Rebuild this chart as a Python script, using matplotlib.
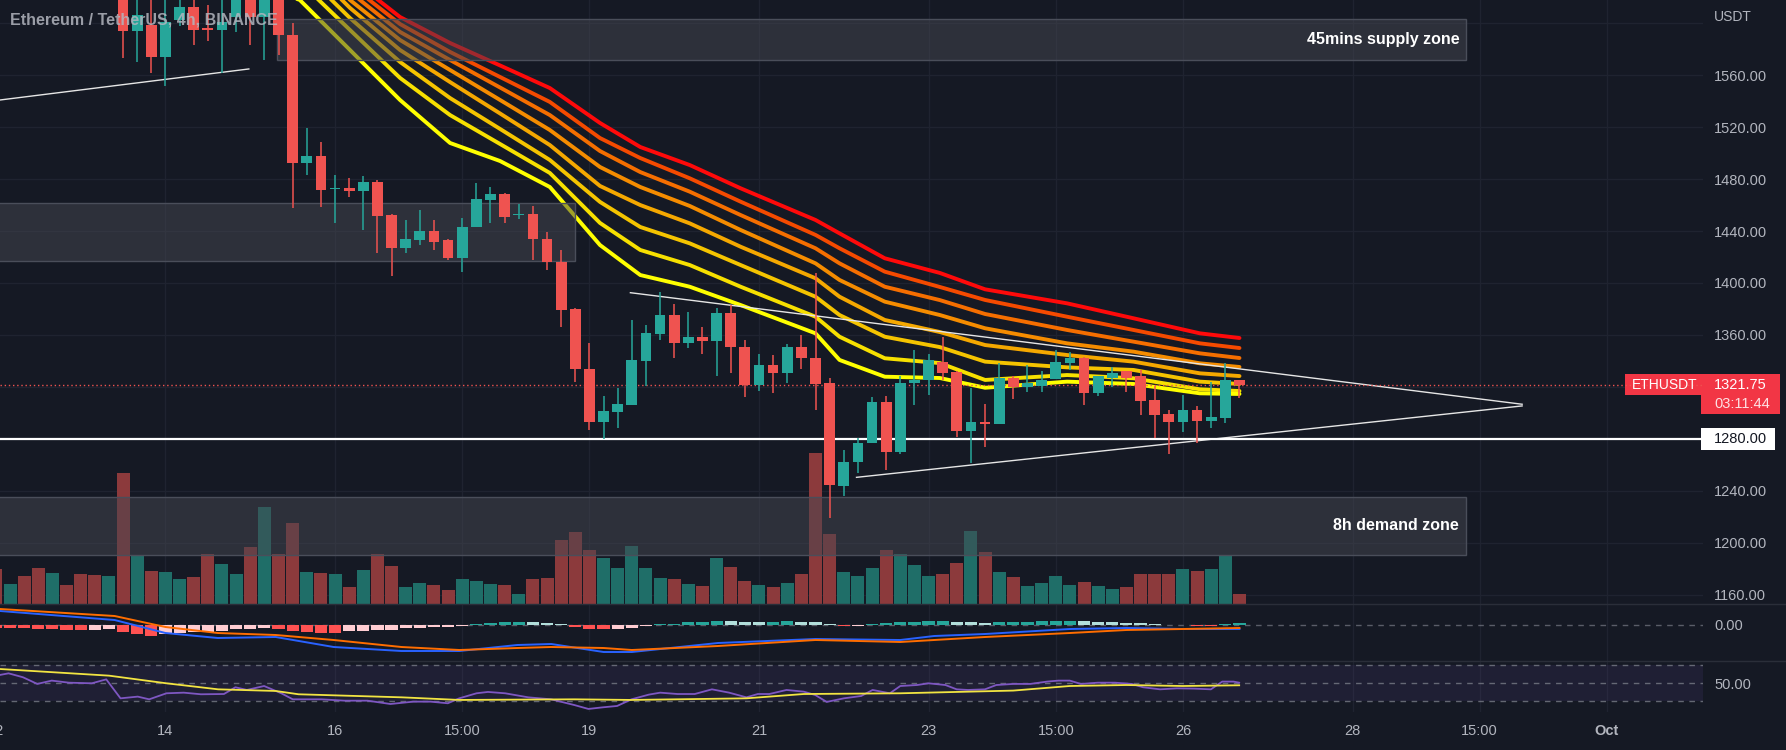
import numpy as np
import matplotlib
matplotlib.use('Agg')
import matplotlib.pyplot as plt
from matplotlib.patches import Rectangle
from matplotlib.transforms import blended_transform_factory, IdentityTransform

plt.rcParams['font.family'] = ['Liberation Sans', 'DejaVu Sans']

# ---------------- data ----------------
BARS = np.arange(-1, 88)  # 4h bars, bar 11 = Sep 14 first bar

OPEN = [1668, 1655, 1666, 1650, 1636, 1647, 1640, 1630, 1627,
        1636, 1594, 1599, 1574, 1602.5, 1612.7, 1596, 1595, 1605, 1632, 1605, 1628,
        1591, 1492, 1498, 1472, 1473, 1471, 1478, 1452.5, 1426.7, 1433, 1440, 1433,
        1419, 1443.4, 1464, 1468.5, 1452, 1453, 1434, 1416, 1380, 1334, 1293, 1301,
        1306, 1340, 1361, 1375.5, 1354, 1358, 1355, 1377, 1351, 1321.5, 1337, 1331,
        1351, 1342, 1323, 1244, 1262, 1277, 1308, 1270, 1323, 1325, 1339, 1331.5,
        1286, 1293, 1291, 1327, 1320, 1321, 1326, 1338, 1342, 1315, 1327, 1332,
        1328, 1310, 1299, 1293, 1302, 1294, 1296, 1325]
HIGH = [1675, 1672, 1670, 1656, 1652, 1650, 1645, 1638, 1642,
        1642, 1625, 1621, 1622, 1619, 1621, 1614, 1625, 1640, 1645, 1640, 1636,
        1600, 1519, 1508.6, 1483, 1481, 1482, 1479, 1453, 1448.5, 1456, 1448.5, 1434,
        1450, 1477, 1474, 1469, 1461, 1459, 1439, 1425, 1381, 1354, 1313, 1319,
        1371.5, 1368, 1393, 1384, 1378, 1366, 1381, 1383, 1356, 1345, 1344.6, 1353,
        1360, 1408, 1327, 1271, 1280.5, 1312, 1313, 1328, 1348, 1345, 1358.5, 1332,
        1319, 1307, 1338, 1328, 1337, 1332, 1348, 1347, 1343, 1328, 1335, 1332,
        1333, 1321, 1302, 1314, 1305, 1324, 1338, 1325]
LOW = [1648, 1650, 1645, 1630, 1628, 1636, 1626, 1622, 1624,
       1573, 1570, 1562, 1552, 1598, 1583, 1586, 1562, 1593, 1583, 1572, 1575.5,
       1457.7, 1483, 1458.5, 1446, 1466.5, 1441, 1423, 1405, 1423, 1429, 1425, 1418,
       1408.6, 1443, 1446, 1446, 1449, 1418, 1410, 1366, 1324, 1287, 1280, 1288.5,
       1306, 1321, 1356, 1342, 1350, 1345, 1328, 1331, 1312, 1317, 1315, 1323,
       1334, 1302, 1219, 1236, 1254, 1277, 1256, 1268, 1306, 1314, 1325, 1281,
       1261, 1274, 1291, 1311, 1316, 1316, 1326, 1333, 1306, 1313, 1320, 1316,
       1298, 1280.5, 1268, 1285, 1277, 1288, 1292, 1311.5]
CLOSE = [1655, 1666, 1650, 1636, 1647, 1640, 1630, 1627, 1636,
         1594, 1606, 1574, 1601, 1612.5, 1594.8, 1595, 1601, 1630, 1605, 1628, 1591,
         1492.4, 1497.8, 1471.6, 1473, 1471, 1478, 1451.6, 1426.7, 1433.7, 1440, 1431.5, 1419,
         1443.4, 1464.8, 1468.5, 1451, 1453, 1434, 1416, 1379, 1334, 1293, 1301.4, 1307,
         1341, 1361.5, 1375.5, 1354, 1358, 1355, 1377, 1351, 1321.5, 1337, 1331, 1351,
         1342, 1322, 1244.4, 1262, 1277, 1308, 1270, 1323, 1325, 1341, 1331, 1286,
         1293, 1291, 1327, 1320, 1323, 1325, 1339, 1342, 1315, 1328, 1331, 1327,
         1309, 1298, 1293, 1302, 1294, 1297, 1325, 1321.75]
VOLUME = [35, 20, 28, 36, 31, 19, 30, 29, 28,
          131, 48, 33, 32, 25, 27, 50, 40, 30, 57, 97, 50,
          81, 32, 31, 30, 17, 34, 50, 38, 17, 21, 19, 14,
          25, 23, 20, 19, 10, 25, 26, 64, 72, 54, 46, 36,
          58, 36, 26, 25, 20, 18, 46, 37, 23, 19, 17, 21,
          30, 151, 70, 32, 28, 36, 54, 50, 39, 28, 30, 41,
          73, 52, 32, 27, 18, 21, 28, 19, 22, 18, 15, 17,
          30, 30, 30, 35, 33, 35, 48, 10]

# EMA ribbon (8 lines, fast -> slow), sampled at bar positions
RIBBON_X = [-1, 10, 20.5, 24.06, 27.6, 31.14, 34.68, 38.2, 41.75, 44.6, 48.1, 51.7,
            57, 58.7, 61.9, 65.8, 69, 74.8, 79.5, 84.2, 87]
EMA_1 = [1700, 1655, 1618, 1579.4, 1540.9, 1507.8, 1493.9, 1473.9, 1429.2, 1406.1, 1397.1, 1383.0,
         1361.2, 1340.7, 1327.8, 1326.8, 1319.3, 1324.0, 1322.2, 1315.0, 1314.5]
EMA_2 = [1705, 1665, 1632, 1594.8, 1557.9, 1529.3, 1507.0, 1484.7, 1446.2, 1425.4, 1413.8, 1397.1,
         1374.0, 1358.6, 1342.0, 1338.3, 1325.3, 1329.1, 1326.6, 1318.1, 1316.8]
EMA_3 = [1710, 1672, 1642, 1604.0, 1570.2, 1542.4, 1518.6, 1494.7, 1462.4, 1443.1, 1430.5, 1413.8,
         1389.4, 1375.3, 1358.6, 1350.6, 1339.4, 1335.0, 1333.0, 1324.0, 1322.2]
EMA_4 = [1714, 1680, 1650, 1611.8, 1579.4, 1554.7, 1530.5, 1506.2, 1474.7, 1460.0, 1445.9, 1427.9,
         1403.6, 1389.4, 1371.5, 1362.2, 1352.2, 1344.5, 1339.4, 1330.4, 1328.3]
EMA_5 = [1718, 1686, 1657, 1617.9, 1587.1, 1564.0, 1540.9, 1517.8, 1489.3, 1473.9, 1459.3, 1440.8,
         1415.1, 1402.3, 1385.6, 1375.3, 1365.1, 1353.5, 1347.1, 1338.1, 1335.3]
EMA_6 = [1722, 1692, 1663, 1624.0, 1593.3, 1571.7, 1550.5, 1529.3, 1501.6, 1485.4, 1470.3, 1452.3,
         1426.7, 1415.1, 1397.1, 1386.8, 1376.1, 1363.8, 1354.8, 1345.8, 1342.2]
EMA_7 = [1726, 1697, 1669, 1629.5, 1599.4, 1577.9, 1558.6, 1539.4, 1511.6, 1496.2, 1480.6, 1462.6,
         1437.0, 1426.7, 1408.7, 1396.9, 1386.9, 1374.0, 1363.8, 1353.5, 1349.9]
EMA_8 = [1730, 1702, 1675, 1634.9, 1604.8, 1584.8, 1567.5, 1550.1, 1523.2, 1504.7, 1490.8, 1472.9,
         1448.5, 1438.2, 1419.0, 1407.7, 1395.1, 1384.3, 1372.8, 1361.2, 1357.6]
RIBBON = [EMA_1, EMA_2, EMA_3, EMA_4, EMA_5, EMA_6, EMA_7, EMA_8]
RIBBON_COLORS = ['#ffff00', '#f7e000', '#f5c400', '#f5a800', '#f58c00', '#f56e00', '#f54a00', '#ff0a0a']

# MACD
HIST = [-2.5, -3.0, -3.3, -3.8, -4.2, -4.5, -4.7, -4.5, -4.3,
        -7.0, -8.5, -10.5, -9.0, -7.5, -7.2, -7.0, -5.5, -4.0, -3.5, -3.2, -3.8,
        -5.5, -7.0, -7.5, -7.6, -6.0, -5.5, -5.2, -4.5, -3.0, -2.5, -2.2, -1.8,
        -1.0, 1.5, 2.5, 3.0, 3.5, 3.3, 2.0, 1.5, -1.5, -3.5, -4.0, -3.8,
        -2.5, -0.7, 1.0, 1.5, 2.8, 3.2, 4.2, 4.0, 3.5, 3.3, 3.4, 3.6,
        3.5, 3.2, 0.8, -1.0, -0.8, 1.5, 2.0, 3.0, 3.5, 3.8, 4.0, 3.0,
        2.6, 2.4, 2.8, 3.2, 3.4, 3.6, 3.8, 4.0, 3.6, 3.2, 2.8, 2.2,
        1.8, 0.8, 0.4, -0.3, -0.5, -0.6, 1.2, 1.6]
MACD_X = [-0.7, 7.4, 11, 14.7, 18.8, 22.9, 27.7, 31.8, 35.9, 38.3, 42, 44, 50.1, 57, 63, 65.4, 69, 75, 79, 83, 87]
MACD_LINE = [14, 5, -8, -13, -12, -22, -26, -26, -20, -19, -27, -27, -18, -14, -15, -11, -9, -4, -3, -4, -4]
SIGNAL_LINE = [16, 9, -2, -8, -10, -15, -22, -25, -23, -22, -23, -25, -21, -15, -17, -15, -12, -8, -5, -4, -3]

# RSI
RSI_X = [-0.71, -0.1, 0.92, 1.93, 2.95, 4.17, 5.79, 6.81, 7.82, 9.04, 9.85, 11.07, 12.29, 13.51,
         15.14, 15.95, 16.76, 17.98, 19.2, 20.01, 22.04, 23.67, 25.29, 26.92, 28.54, 29.76, 30.98,
         31.79, 33.01, 33.82, 35.04, 36.67, 38.29, 39.92, 40.93, 41.95, 42.96, 43.98, 45.2, 46.01,
         47.23, 48.45, 49.67, 50.89, 52.11, 52.92, 53.73, 54.95, 56.17, 56.98, 57.79, 59.01, 60.23,
         61.04, 62.26, 63.0, 64.19, 64.99, 66.19, 66.99, 67.79, 68.99, 69.79, 70.99, 72.19, 73.39,
         74.19, 74.99, 75.78, 76.98, 78.18, 79.38, 80.18, 81.38, 82.58, 83.78, 84.98, 85.78, 86.58, 86.98]
RSI_VALS = [59.3, 61.1, 56.7, 49.3, 53.0, 50.7, 50.0, 54.4, 33.3, 35.2, 32.2, 38.9, 39.6, 37.8,
            38.1, 45.6, 42.6, 47.0, 38.9, 32.2, 32.2, 30.7, 30.7, 27.0, 29.6, 29.6, 27.8,
            33.3, 38.9, 40.4, 38.9, 34.4, 32.2, 25.9, 21.5, 23.3, 24.8, 32.2, 37.4, 39.6,
            38.1, 38.1, 43.3, 39.6, 34.4, 38.1, 38.1, 42.6, 40.7, 37.0, 29.3, 33.3, 35.9,
            42.6, 38.9, 47.0, 48.1, 50.0, 48.1, 43.3, 42.6, 43.3, 48.1, 49.3, 49.3, 51.9,
            53.0, 53.0, 49.3, 50.7, 50.7, 49.3, 45.6, 43.3, 44.4, 44.1, 43.3, 51.9, 51.9, 50.7]
RSI_MA_X = [-0.71, 7.01, 11.07, 14.73, 18.79, 20.42, 27.73, 31.79, 39.92, 43.98, 52.11, 56.17, 63.0,
            70.99, 74.99, 78.98, 82.98, 86.98]
RSI_MA_VALS = [65.9, 58.5, 50.0, 43.3, 41.5, 37.8, 34.4, 31.5, 32.2, 31.5, 33.3, 38.1, 38.9,
               41.9, 47.0, 48.1, 47.0, 47.8]

PRICE_TICKS = [1160, 1200, 1240, 1360, 1400, 1440, 1480, 1520, 1560]   # 1280/1320 covered by labels
GRID_PRICES = [1160, 1200, 1240, 1280, 1320, 1360, 1400, 1440, 1480, 1520, 1560, 1600]
TIME_TICK_BARS = [-1, 11, 23, 32, 41, 53, 65, 74, 83, 95, 104, 113]
TIME_TICK_LABELS = ['12', '14', '16', '15:00', '19', '21', '23', '15:00', '26', '28', '15:00', 'Oct']

LAST_PRICE = 1321.75
LEVEL_PRICE = 1280.0
# drawings (bar, price)
TL_LEFT_X, TL_LEFT_Y = [-0.71, 16.9], [1540.9, 1564.8]
TRI_TOP_X, TRI_TOP_Y = [43.9, 107.0], [1392.5, 1306.6]
TRI_BOT_X, TRI_BOT_Y = [59.9, 107.0], [1250.3, 1305.3]
ZONES = [  # x0, x1, p_low, p_high, label
    (18.9, 103.0, 1571.7, 1603.3, '45mins supply zone'),
    (-2.0, 40.0, 1416.9, 1461.6, ''),
    (-2.0, 103.0, 1190.5, 1235.2, '8h demand zone'),
]

# ---------------- style ----------------
W, H = 1786, 750
BG = '#151924'
GRID = '#1f2330'
TXT = '#b2b5be'
UP, DN = '#26a69a', '#ef5350'
VUP, VDN = '#1f6e68', '#8c3a3c'
XMIN, XMAX = -0.708, 119.8


def box(x0, y0, x1, y1):
    return [x0 / W, 1 - y1 / H, (x1 - x0) / W, (y1 - y0) / H]


fig = plt.figure(figsize=(W / 100, H / 100), dpi=100, facecolor=BG)

ax = fig.add_axes(box(0, 0, 1703, 604))
axv = ax.twinx()
ax.set_zorder(axv.get_zorder() + 1)
ax.patch.set_visible(False)
axv.patch.set_visible(False)
ax.set_xlim(XMIN, XMAX)
ax.set_ylim(1152.76, 1617.91)
axv.set_ylim(0, 604)

axm = fig.add_axes(box(0, 604, 1703, 661), sharex=ax)
axr = fig.add_axes(box(0, 661, 1703, 712), sharex=ax)
for a in (ax, axv, axm, axr):
    for s in a.spines.values():
        s.set_visible(False)
axm.patch.set_visible(False)
axr.patch.set_visible(False)

# grid
hb = blended_transform_factory(axv.transAxes, ax.transData)
for p in GRID_PRICES:
    axv.plot([0, 1], [p, p], transform=hb, color=GRID, lw=1, zorder=0)
for b in TIME_TICK_BARS:
    for a in (axv, axm, axr):
        a.axvline(b, color=GRID, lw=1, zorder=0)

# volume
close = np.array(CLOSE, float)
opn = np.array(OPEN, float)
up = close >= opn
axv.bar(BARS, VOLUME, width=0.92, color=np.where(up, VUP, VDN), lw=0, zorder=1)
axv.set_yticks([])
axv.tick_params(right=False, labelright=False)

# ribbon
for vals, col in reversed(list(zip(RIBBON, RIBBON_COLORS))):
    ax.plot(RIBBON_X, vals, color=col, lw=2.8, zorder=2, solid_capstyle='round', solid_joinstyle='round')

# zones
for x0, x1, p0, p1, lab in ZONES:
    ax.add_patch(Rectangle((x0, p0), x1 - x0, p1 - p0, facecolor='#454750', alpha=0.5,
                           edgecolor='none', zorder=3))
    ax.add_patch(Rectangle((x0, p0), x1 - x0, p1 - p0, facecolor='none',
                           edgecolor='#4a4e5a', lw=1, zorder=3.05))
    if lab:
        ax.text(x1 - 0.45, (p0 + p1) / 2, lab, ha='right', va='center', color='white',
                fontsize=11.5, fontweight='bold', zorder=6)

# drawings
for xs, ys in ((TL_LEFT_X, TL_LEFT_Y), (TRI_TOP_X, TRI_TOP_Y), (TRI_BOT_X, TRI_BOT_Y)):
    ax.plot(xs, ys, color='#e6e6e6', lw=1.0, zorder=3.5)
ax.axhline(LEVEL_PRICE, color='white', lw=1.6, zorder=3.8)
ax.axhline(LAST_PRICE, color=DN, lw=1, ls=(0, (1, 2)), zorder=3.7)

# candles
high = np.array(HIGH, float)
low = np.array(LOW, float)
ccol = np.where(up, UP, DN)
ax.vlines(BARS, low, high, colors=ccol, lw=1.1, zorder=4)
ax.bar(BARS, np.maximum(np.abs(close - opn), 0.8), bottom=np.minimum(opn, close),
       width=0.76, color=ccol, lw=0, zorder=4.1)

# price axis labels
ax.yaxis.tick_right()
ax.set_yticks(PRICE_TICKS)
ax.set_yticklabels([f'{p:.2f}' for p in PRICE_TICKS])
ax.tick_params(axis='y', length=0, pad=8, labelsize=10.5, labelcolor=TXT)
ax.tick_params(axis='x', bottom=False, labelbottom=False)

# MACD pane
hist = np.array(HIST, float)
prev = np.concatenate([[hist[0]], hist[:-1]])
hcol = np.where(hist >= 0, np.where(hist >= prev, '#26a69a', '#b2dfdb'),
                np.where(hist < prev, '#ff5252', '#ffcdd2'))
hcol[0] = '#ff5252'
axm.bar(BARS, hist, width=0.86, color=hcol, lw=0, zorder=2)
axm.axhline(0, color='#787b86', lw=1, ls=(0, (4, 4)), alpha=0.7, zorder=1)
axm.plot(MACD_X, MACD_LINE, color='#2962ff', lw=1.4, zorder=3)
axm.plot(MACD_X, SIGNAL_LINE, color='#ff6d00', lw=1.4, zorder=3)
axm.set_ylim(-36, 21)
axm.yaxis.tick_right()
axm.set_yticks([0])
axm.set_yticklabels(['0.00'])
axm.tick_params(axis='y', length=0, pad=8, labelsize=10.5, labelcolor=TXT)
axm.tick_params(axis='x', bottom=False, labelbottom=False)

# RSI pane
axr.axhspan(30, 70, color='#7e57c2', alpha=0.1, lw=0, zorder=1)
for lv in (30, 50, 70):
    axr.axhline(lv, color='#787b86', lw=1, ls=(0, (4, 4)), alpha=0.8, zorder=1.5)
axr.plot(RSI_MA_X, RSI_MA_VALS, color='#f2e442', lw=1.3, zorder=3)
axr.plot(RSI_X, RSI_VALS, color='#7e57c2', lw=1.3, zorder=2.5)
axr.set_ylim(18.1, 74.8)
axr.yaxis.tick_right()
axr.set_yticks([50])
axr.set_yticklabels(['50.00'])
axr.tick_params(axis='y', length=0, pad=8, labelsize=10.5, labelcolor=TXT)
axr.tick_params(axis='x', bottom=False, labelbottom=False)
axr.set_xlim(XMIN, XMAX)

# time labels
tb = blended_transform_factory(axr.transData, axr.transAxes)
for b, lab in zip(TIME_TICK_BARS, TIME_TICK_LABELS):
    axr.text(b, -0.37, lab, transform=tb, ha='center', va='center', fontsize=10.5, color=TXT,
             fontweight='bold' if lab == 'Oct' else 'normal', clip_on=False)

# pane separators
for yy in (604, 661):
    fig.add_artist(plt.Line2D([0, W], [H - yy, H - yy], transform=IdentityTransform(),
                              color='#2a2e39', lw=1))

# title and axis unit
IT = IdentityTransform()
fig.text(10, H - 20, 'Ethereum / TetherUS, 4h, BINANCE', transform=IT, ha='left', va='center',
         fontsize=11.5, fontweight='bold', color=TXT, alpha=0.85)
fig.text(1714, H - 17, 'USDT', transform=IT, ha='left', va='center', fontsize=10, color=TXT)

# last price label
yl = ax.transData.transform((0, LAST_PRICE))[1]
fig.add_artist(Rectangle((1625, yl - 10.5), 76, 21, transform=IT, facecolor='#f23645', edgecolor='none'))
fig.add_artist(Rectangle((1701, yl - 29.5), 79, 40, transform=IT, facecolor='#f23645', edgecolor='none'))
fig.text(1632, yl, 'ETHUSDT', transform=IT, ha='left', va='center', fontsize=10, color='white')
fig.text(1714, yl, f'{LAST_PRICE:.2f}', transform=IT, ha='left', va='center', fontsize=10.5, color='white')
fig.text(1714, yl - 19, '03:11:44', transform=IT, ha='left', va='center', fontsize=10.5,
         color='white', alpha=0.85)

# 1280 level label
yv = ax.transData.transform((0, LEVEL_PRICE))[1]
fig.add_artist(Rectangle((1701, yv - 11), 74, 22, transform=IT, facecolor='white', edgecolor='none'))
fig.text(1714, yv, f'{LEVEL_PRICE:.2f}', transform=IT, ha='left', va='center', fontsize=10.5, color='#131722')

fig.savefig('out.png', dpi=100, facecolor=BG)
